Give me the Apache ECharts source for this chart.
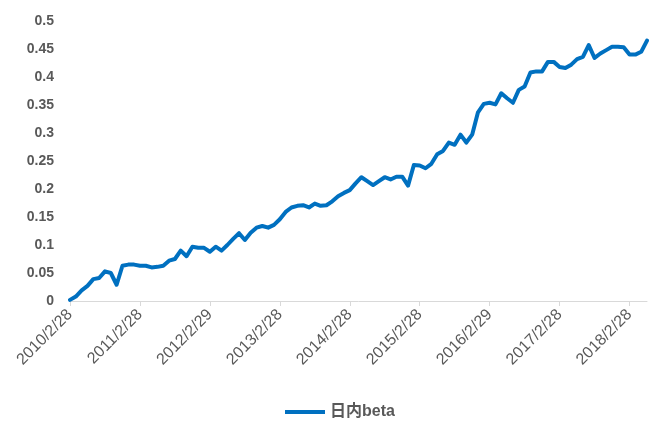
<!DOCTYPE html>
<html>
<head>
<meta charset="utf-8">
<script src="https://cdn.jsdelivr.net/npm/echarts@6/dist/echarts.min.js"></script>
<style>html,body{margin:0;padding:0;background:#fff;}#c{width:657px;height:426px;}</style>
</head>
<body>
<div id="c"></div>
<script>
const categories = [
  "2010/2/28","2010/3/31","2010/4/30","2010/5/31","2010/6/30","2010/7/31","2010/8/31","2010/9/30","2010/10/31","2010/11/30","2010/12/31",
  "2011/1/31","2011/2/28","2011/3/31","2011/4/30","2011/5/31","2011/6/30","2011/7/31","2011/8/31","2011/9/30","2011/10/31","2011/11/30","2011/12/31",
  "2012/1/31","2012/2/29","2012/3/31","2012/4/30","2012/5/31","2012/6/30","2012/7/31","2012/8/31","2012/9/30","2012/10/31","2012/11/30","2012/12/31",
  "2013/1/31","2013/2/28","2013/3/31","2013/4/30","2013/5/31","2013/6/30","2013/7/31","2013/8/31","2013/9/30","2013/10/31","2013/11/30","2013/12/31",
  "2014/1/31","2014/2/28","2014/3/31","2014/4/30","2014/5/31","2014/6/30","2014/7/31","2014/8/31","2014/9/30","2014/10/31","2014/11/30","2014/12/31",
  "2015/1/31","2015/2/28","2015/3/31","2015/4/30","2015/5/31","2015/6/30","2015/7/31","2015/8/31","2015/9/30","2015/10/31","2015/11/30","2015/12/31",
  "2016/1/31","2016/2/29","2016/3/31","2016/4/30","2016/5/31","2016/6/30","2016/7/31","2016/8/31","2016/9/30","2016/10/31","2016/11/30","2016/12/31",
  "2017/1/31","2017/2/28","2017/3/31","2017/4/30","2017/5/31","2017/6/30","2017/7/31","2017/8/31","2017/9/30","2017/10/31","2017/11/30","2017/12/31",
  "2018/1/31","2018/2/28","2018/3/31","2018/4/30","2018/5/31"
];
const seriesName = "日内beta";
const betaValues = [
  0.002,0.008,0.019,0.027,0.039,0.041,0.053,0.050,0.029,0.063,0.065,
  0.065,0.063,0.063,0.060,0.061,0.063,0.072,0.075,0.090,0.080,0.097,0.095,
  0.095,0.088,0.097,0.090,0.100,0.111,0.121,0.109,0.122,0.131,0.134,0.131,
  0.136,0.146,0.159,0.167,0.170,0.171,0.167,0.174,0.170,0.171,0.178,0.187,
  0.193,0.198,0.210,0.221,0.214,0.207,0.214,0.221,0.217,0.222,0.222,0.206,
  0.243,0.242,0.237,0.245,0.262,0.268,0.283,0.279,0.297,0.283,0.297,0.337,
  0.352,0.354,0.351,0.371,0.362,0.354,0.377,0.383,0.408,0.410,0.410,0.427,
  0.427,0.418,0.416,0.422,0.432,0.436,0.457,0.434,0.442,0.448,0.454,0.454,
  0.453,0.440,0.440,0.445,0.465
];
const yMin = 0, yMax = 0.5, yStep = 0.05;

const chart = echarts.init(document.getElementById('c'), null, {renderer:'canvas'});
const yearly = (i) => i % 12 === 0;
chart.setOption({
  animation: false,
  backgroundColor: '#ffffff',
  grid: {left: 70, right: 10, top: 21, bottom: 125, containLabel: false},
  xAxis: {
    type: 'category',
    data: categories,
    boundaryGap: false,
    axisLine: {lineStyle: {color: '#d9d9d9', width: 1}},
    axisTick: {show: true, interval: (i) => yearly(i), length: 5, lineStyle: {color: '#d9d9d9'}},
    axisLabel: {interval: (i) => yearly(i), rotate: 45, color: '#595959', fontSize: 16, fontFamily: 'Liberation Sans, Arial, sans-serif', margin: 11},
    splitLine: {show: false}
  },
  yAxis: {
    type: 'value',
    min: yMin, max: yMax, interval: yStep,
    axisLine: {show: false},
    axisTick: {show: false},
    splitLine: {show: false},
    axisLabel: {color: '#595959', fontSize: 14, fontWeight: 'bold', fontFamily: 'Liberation Sans, Arial, sans-serif', margin: 16}
  },
  legend: {
    data: [seriesName],
    left: 280, top: 399,
    icon: 'rect',
    itemWidth: 40, itemHeight: 4, itemGap: 5,
    textStyle: {color: '#595959', fontSize: 16, fontWeight: 'bold', fontFamily: 'Liberation Sans, Noto Sans CJK SC, sans-serif'}
  },
  series: [{
    name: seriesName,
    type: 'line',
    data: betaValues,
    symbol: 'none',
    smooth: false,
    lineStyle: {color: '#0070c0', width: 4, cap: 'round', join: 'round'},
    itemStyle: {color: '#0070c0'}
  }]
});
</script>
</body>
</html>
